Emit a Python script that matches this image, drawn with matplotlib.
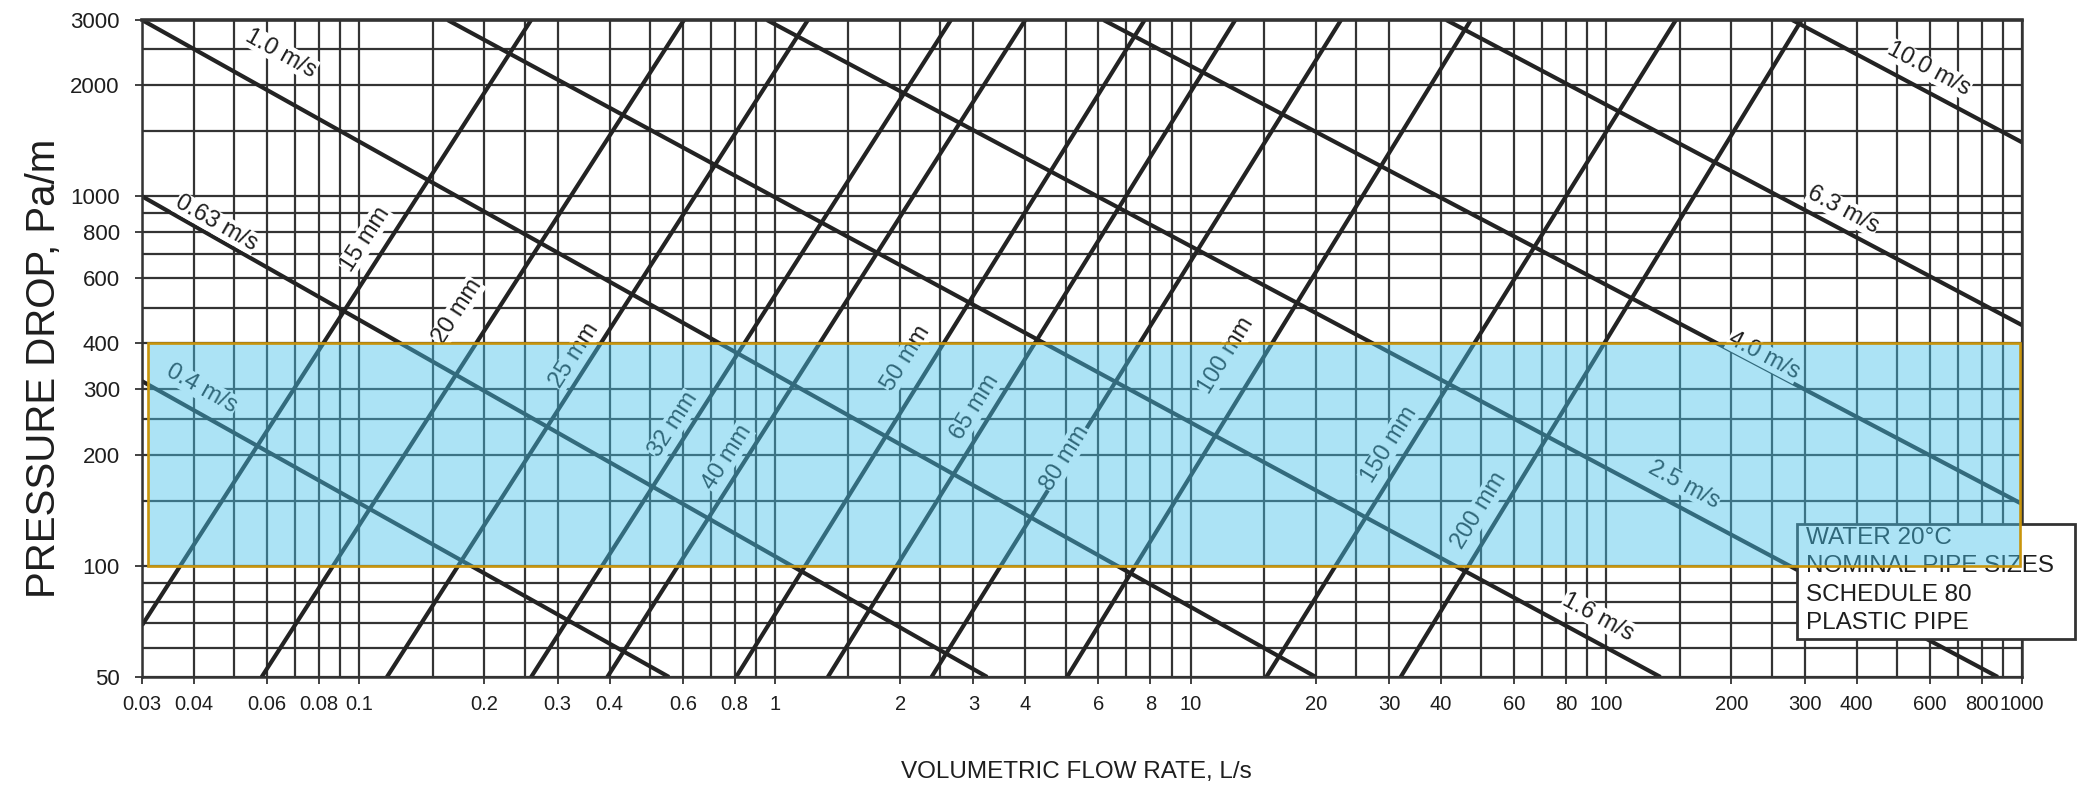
import numpy as np
import matplotlib
matplotlib.use('Agg')
import matplotlib.pyplot as plt
from matplotlib.patches import Rectangle
from matplotlib.ticker import FixedLocator, FixedFormatter, NullFormatter

plt.rcParams['font.family'] = ['Liberation Sans', 'DejaVu Sans']

# ---------------- data ----------------
x_ticks = [0.03, 0.04, 0.06, 0.08, 0.1, 0.2, 0.3, 0.4, 0.6, 0.8, 1, 2, 3, 4, 6, 8, 10,
           20, 30, 40, 60, 80, 100, 200, 300, 400, 600, 800, 1000]
x_tick_labels = ['0.03', '0.04', '0.06', '0.08', '0.1', '0.2', '0.3', '0.4', '0.6', '0.8',
                 '1', '2', '3', '4', '6', '8', '10', '20', '30', '40', '60', '80', '100',
                 '200', '300', '400', '600', '800', '1000']
y_ticks = [50, 100, 200, 300, 400, 600, 800, 1000, 2000, 3000]
y_tick_labels = ['50', '100', '200', '300', '400', '600', '800', '1000', '2000', '3000']
grid_mantissas = [1, 1.5, 2, 2.5, 3, 4, 5, 6, 7, 8, 9]

# nominal pipe size lines (start / end points)
pipe_sizes = ['15 mm', '20 mm', '25 mm', '32 mm', '40 mm', '50 mm', '65 mm', '80 mm',
              '100 mm', '150 mm', '200 mm']
pipe_x_low = [0.03, 0.0582, 0.1165, 0.259, 0.395, 0.806, 1.34, 2.38, 5.04, 15.2, 32]
pipe_y_low = [69, 50, 50, 50, 50, 50, 50, 50, 50, 50, 50]
pipe_x_high = [0.259, 0.604, 1.2, 2.65, 4.0, 7.75, 12.8, 23, 47.2, 147, 295]
pipe_y_high = [3000, 3000, 3000, 3000, 3000, 3000, 3000, 3000, 3000, 3000, 3000]
pipe_label_x = [0.1032, 0.172, 0.329, 0.570, 0.766, 2.06, 3.02, 4.98, 12.2, 30.0, 49.5]
pipe_label_y = [766, 487, 370, 241, 196, 364, 268, 196, 370, 213, 141]

# velocity lines
velocities = ['0.4 m/s', '0.63 m/s', '1.0 m/s', '1.6 m/s', '2.5 m/s', '4.0 m/s',
              '6.3 m/s', '10.0 m/s']
vel_x_start = [0.03, 0.03, 0.03, 0.163, 0.956, 6.17, 41.2, 280]
vel_y_start = [316, 1000, 3000, 3000, 3000, 3000, 3000, 3000]
vel_x_end = [0.556, 3.24, 20, 135, 875, 1000, 1000, 1000]
vel_y_end = [50, 50, 50, 50, 50, 147, 448, 1400]
vel_label_x = [0.0418, 0.0453, 0.0648, 95.6, 154, 239, 371, 598]
vel_label_y = [301, 846, 2438, 72.7, 166, 370, 919, 2209]

# highlighted band
band_x = [0.031, 990]
band_y = [100, 400]

legend_lines = ['WATER 20°C', 'NOMINAL PIPE SIZES', 'SCHEDULE 80', 'PLASTIC PIPE']

# ---------------- figure ----------------
W, H = 2079, 789
fig = plt.figure(figsize=(W / 100, H / 100), dpi=100)
fig.patch.set_facecolor('white')
ax = fig.add_axes([142 / W, 1 - 677 / H, (2022 - 142) / W, (677 - 20) / H])
ax.set_xscale('log')
ax.set_yscale('log')
ax.set_xlim(0.03, 1000)
ax.set_ylim(50, 3000)

grid_col = '#333333'
line_col = '#232323'
text_col = '#1e1e1e'

ax.xaxis.set_major_locator(FixedLocator(x_ticks))
ax.xaxis.set_major_formatter(FixedFormatter(x_tick_labels))
ax.yaxis.set_major_locator(FixedLocator(y_ticks))
ax.yaxis.set_major_formatter(FixedFormatter(y_tick_labels))

xg = [m * 10.0 ** e for e in range(-2, 3) for m in grid_mantissas]
xg = [v for v in xg if 0.03 <= v <= 1000]
yg = [m * 10.0 ** e for e in range(1, 4) for m in grid_mantissas]
yg = [v for v in yg if 50 <= v <= 3000]
ax.xaxis.set_minor_locator(FixedLocator(xg))
ax.yaxis.set_minor_locator(FixedLocator(yg))
ax.xaxis.set_minor_formatter(NullFormatter())
ax.yaxis.set_minor_formatter(NullFormatter())
ax.grid(True, which='both', color=grid_col, linewidth=1.6)
ax.tick_params(which='minor', length=0)
ax.tick_params(which='major', direction='out', length=5, width=1.3, color=grid_col,
               labelcolor=text_col)
ax.tick_params(axis='x', which='major', pad=8, labelsize=14.5)
ax.tick_params(axis='y', which='major', pad=11, labelsize=16)
for s in ax.spines.values():
    s.set_color(grid_col)
    s.set_linewidth(1.8)
ax.spines['top'].set_linewidth(2.6)

# pipe lines
for i in range(len(pipe_sizes)):
    ax.plot([pipe_x_low[i], pipe_x_high[i]], [pipe_y_low[i], pipe_y_high[i]],
            color=line_col, linewidth=3.0, solid_capstyle='butt', zorder=2)
# velocity lines
for i in range(len(velocities)):
    ax.plot([vel_x_start[i], vel_x_end[i]], [vel_y_start[i], vel_y_end[i]],
            color=line_col, linewidth=3.0, solid_capstyle='butt', zorder=2)


def screen_angle(x0, y0, x1, y1):
    p0 = ax.transData.transform((x0, y0))
    p1 = ax.transData.transform((x1, y1))
    return np.degrees(np.arctan2(p1[1] - p0[1], p1[0] - p0[0]))


lab_box = dict(facecolor='white', edgecolor='none', pad=0.4)
for i, name in enumerate(pipe_sizes):
    ang = screen_angle(pipe_x_low[i], pipe_y_low[i], pipe_x_high[i], pipe_y_high[i])
    ax.text(pipe_label_x[i], pipe_label_y[i], name, rotation=ang, rotation_mode='anchor',
            ha='center', va='center', fontsize=17, color=text_col, bbox=lab_box, zorder=3)
for i, name in enumerate(velocities):
    ang = screen_angle(vel_x_start[i], vel_y_start[i], vel_x_end[i], vel_y_end[i])
    ax.text(vel_label_x[i], vel_label_y[i], name, rotation=ang, rotation_mode='anchor',
            ha='center', va='center', fontsize=17, color=text_col, bbox=lab_box, zorder=3)

# legend box (partly outside the axes)
box = Rectangle((1797 / W, 1 - 639 / H), 278 / W, 115 / H, transform=fig.transFigure,
                facecolor='white', edgecolor='#333333', linewidth=2.0, clip_on=False, zorder=4)
ax.add_patch(box)
row_y = [538, 566, 595, 623]
for txt, ry in zip(legend_lines, row_y):
    ax.text(1806 / W, 1 - ry / H, txt, transform=fig.transFigure, ha='left', va='center',
            fontsize=17.5, color=text_col, clip_on=False, zorder=4.5)

# highlighted band (semi-transparent, drawn on top)
band = Rectangle((band_x[0], band_y[0]), band_x[1] - band_x[0], band_y[1] - band_y[0],
                 facecolor=(71 / 255, 195 / 255, 235 / 255, 0.45), edgecolor='#C9950C',
                 linewidth=1.9, zorder=6, clip_on=False)
ax.add_patch(band)

fig.text(44 / W, 1 - 368 / H, 'PRESSURE DROP, Pa/m', rotation=90, ha='center', va='center',
         fontsize=29, color=text_col)
fig.text(1076 / W, 1 - 772 / H, 'VOLUMETRIC FLOW RATE, L/s', ha='center', va='center',
         fontsize=17.5, color=text_col)

fig.savefig('out.png', dpi=100, facecolor='white')
